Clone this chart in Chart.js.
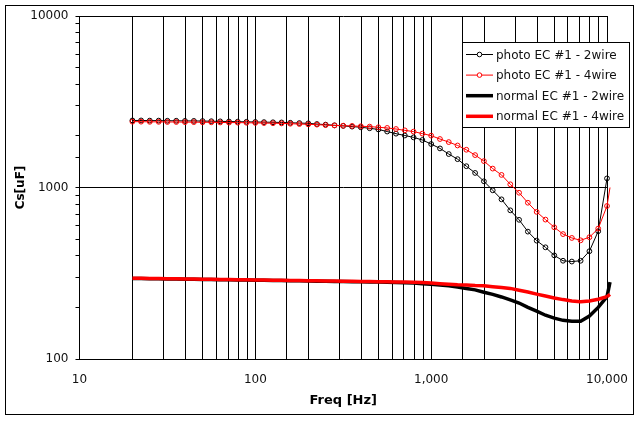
<!DOCTYPE html>
<html>
<head>
<meta charset="utf-8">
<script src="https://cdn.jsdelivr.net/npm/chart.js@4.4.0/dist/chart.umd.min.js"></script>
<style>
  html, body { margin: 0; padding: 0; background: #ffffff; }
  #wrap { width: 642px; height: 421px; }
</style>
</head>
<body>
<div id="wrap"><canvas id="csChart" width="642" height="421"></canvas></div>
<script>
// sweep frequencies [Hz]; the last one sits just past the axis end
const freqs = [20, 22.4, 25.1, 28.2, 31.6, 35.5, 39.8, 44.7, 50.1, 56.2,
               63.1, 70.8, 79.4, 89.1, 100, 112, 126, 141, 158, 178,
               200, 224, 251, 282, 316, 355, 398, 447, 501, 562,
               631, 708, 794, 891, 1000, 1122, 1259, 1413, 1585, 1778,
               1995, 2239, 2512, 2818, 3162, 3548, 3981, 4467, 5012, 5623,
               6310, 7079, 7943, 8913, 10000, 10400];

const photo2wire = [2460, 2460, 2455, 2455, 2450, 2450, 2445, 2445, 2440, 2435,
                    2430, 2425, 2420, 2415, 2410, 2405, 2400, 2395, 2385, 2375,
                    2366, 2345, 2326, 2305, 2286, 2265, 2245, 2215, 2180, 2120,
                    2060, 2010, 1960, 1892, 1792, 1690, 1567, 1463, 1331, 1216,
                    1087, 963, 853, 736, 648, 553, 490, 448, 402, 374,
                    370, 374, 425, 556, 1130, null];

const photo4wire = [2420, 2420, 2415, 2415, 2410, 2410, 2405, 2405, 2400, 2400,
                    2395, 2390, 2390, 2385, 2380, 2375, 2370, 2365, 2355, 2345,
                    2335, 2326, 2310, 2300, 2293, 2286, 2275, 2265, 2245, 2225,
                    2193, 2154, 2118, 2062, 2006, 1917, 1840, 1758, 1660, 1545,
                    1425, 1289, 1184, 1044, 932, 815, 721, 650, 586, 535,
                    508, 492, 513, 576, 780, 1000];

const normal2wire = [295, 295, 294, 294, 293, 293, 292, 292, 291, 291,
                     290, 290, 289, 289, 288, 288, 287, 287, 286, 286,
                     285, 284, 284, 283, 283, 282, 282, 281, 281, 280,
                     279, 278, 277, 275, 273, 270, 267, 263, 258, 253,
                     245, 238, 230, 221, 212, 200, 190, 180, 173, 168,
                     166, 166, 178, 200, 231, 281];

const normal4wire = [296, 296, 295, 295, 294, 294, 293, 293, 292, 292,
                     291, 291, 290, 290, 289, 289, 288, 288, 287, 287,
                     286, 286, 285, 285, 284, 284, 283, 283, 282, 282,
                     281, 281, 280, 279, 277, 275, 273, 271, 270, 268,
                     267, 264, 261, 258, 252, 246, 239, 233, 227, 222,
                     218, 216, 218, 223, 231, 238];

const xLabelTicks = [10, 100, 1000, 10000];
const yLabelTicks = [100, 1000, 10000];

const FONT = 'DejaVu Sans';
const AXIS_MAX = 10000;

// points inside the axis range
function pts(values) {
    const out = [];
    values.forEach((v, i) => { if (v !== null && freqs[i] <= AXIS_MAX) out.push({ x: freqs[i], y: v }); });
    return out;
}

// the short piece past the axis end, listed backwards so Chart.js does not trim it
function tail(values) {
    const out = [];
    values.forEach((v, i) => { if (v !== null && freqs[i] >= AXIS_MAX) out.push({ x: freqs[i], y: v }); });
    return out.length > 1 ? out.reverse() : [];
}

function isMajor(v) {
    const l = Math.log10(v);
    return Math.abs(l - Math.round(l)) < 1e-9;
}

const framePlugin = {
    id: 'frame',
    beforeDraw(chart) {
        const c = chart.ctx;
        c.save();
        c.fillStyle = '#ffffff';
        c.fillRect(0, 0, chart.width, chart.height);
        c.strokeStyle = '#000000';
        c.lineWidth = 1;
        c.strokeRect(5.5, 5.5, 628, 409);
        c.restore();
    }
};

const legendBoxPlugin = {
    id: 'legendBox',
    afterDraw(chart) {
        const c = chart.ctx;
        const x0 = 462.5, y0 = 42.5, w = 167, h = 85;
        c.save();
        c.fillStyle = '#ffffff';
        c.fillRect(x0, y0, w, h);
        c.strokeStyle = '#000000';
        c.lineWidth = 1;
        c.strokeRect(x0, y0, w, h);
        c.font = '12px "' + FONT + '"';
        c.textBaseline = 'middle';
        c.textAlign = 'left';
        chart.data.datasets.filter(ds => !ds.isTail).forEach((ds, i) => {
            const y = 54.5 + i * 20.6;
            c.strokeStyle = ds.borderColor;
            c.lineWidth = ds.borderWidth;
            c.beginPath();
            c.moveTo(466, y);
            c.lineTo(493, y);
            c.stroke();
            if (ds.pointRadius > 0) {
                c.lineWidth = 1;
                c.fillStyle = '#ffffff';
                c.beginPath();
                c.arc(479.5, y, 2.3, 0, Math.PI * 2);
                c.fill();
                c.stroke();
            }
            c.fillStyle = '#111111';
            c.fillText(ds.label, 496, y + 1);
        });
        c.restore();
    }
};

function tailSet(values, color, width, order) {
    return { data: tail(values), borderColor: color, borderWidth: width, pointRadius: 0,
             tension: 0, clip: false, order: order, isTail: true };
}

const ctx = document.getElementById('csChart').getContext('2d');

const csChart = new Chart(ctx, {
    type: 'line',
    data: {
        datasets: [
            { label: 'photo EC #1 - 2wire', data: pts(photo2wire), borderColor: '#000000', borderWidth: 1,
              pointRadius: 2.4, pointBorderColor: '#000000', pointBorderWidth: 1,
              pointBackgroundColor: 'rgba(0,0,0,0)', tension: 0, clip: false, order: 4 },
            { label: 'photo EC #1 - 4wire', data: pts(photo4wire), borderColor: '#ff0000', borderWidth: 1,
              pointRadius: 2.4, pointBorderColor: '#ff0000', pointBorderWidth: 1,
              pointBackgroundColor: 'rgba(0,0,0,0)', tension: 0, clip: false, order: 3 },
            { label: 'normal EC #1 - 2wire', data: pts(normal2wire), borderColor: '#000000', borderWidth: 3.5,
              pointRadius: 0, tension: 0, clip: false, order: 2 },
            { label: 'normal EC #1 - 4wire', data: pts(normal4wire), borderColor: '#ff0000', borderWidth: 3.5,
              pointRadius: 0, tension: 0, clip: false, order: 1 },
            tailSet(photo4wire, '#ff0000', 1, 3),
            tailSet(normal2wire, '#000000', 3.5, 2),
            tailSet(normal4wire, '#ff0000', 3.5, 1)
        ]
    },
    options: {
        responsive: false,
        animation: false,
        devicePixelRatio: 1,
        layout: { padding: { top: 16, right: 32.5, bottom: 0, left: 0 } },
        plugins: {
            legend: { display: false },
            tooltip: { enabled: false }
        },
        scales: {
            x: {
                type: 'logarithmic',
                min: 10, max: AXIS_MAX,
                afterFit: s => { s.height = 62; },
                grid: { color: '#000000', lineWidth: 1, drawTicks: false },
                border: { color: '#000000', width: 1 },
                ticks: {
                    autoSkip: false, maxRotation: 0, padding: 14,
                    color: '#111111', font: { family: FONT, size: 12 },
                    callback: v => xLabelTicks.includes(Math.round(v)) && isMajor(v) ? Math.round(v).toLocaleString('en-US') : ''
                },
                title: { display: true, text: 'Freq [Hz]', color: '#000000',
                         font: { family: FONT, size: 13, weight: 'bold' }, padding: { top: 0, bottom: 13 } }
            },
            y: {
                type: 'logarithmic',
                min: 100, max: 10000,
                afterFit: s => { s.width = 79.5; },
                grid: {
                    color: c => (c.tick && isMajor(c.tick.value)) ? '#000000' : 'rgba(0,0,0,0)',
                    tickColor: '#000000', tickLength: 4, lineWidth: 1
                },
                border: { color: '#000000', width: 1 },
                ticks: {
                    autoSkip: false, padding: 7,
                    color: '#111111', font: { family: FONT, size: 12 },
                    callback: v => yLabelTicks.includes(Math.round(v)) && isMajor(v) ? String(Math.round(v)) : ''
                },
                title: { display: true, text: 'Cs[uF]', color: '#000000',
                         font: { family: FONT, size: 12, weight: 'bold' }, padding: { top: 14, bottom: 0 } }
            }
        }
    },
    plugins: [framePlugin, legendBoxPlugin]
});
</script>
</body>
</html>
